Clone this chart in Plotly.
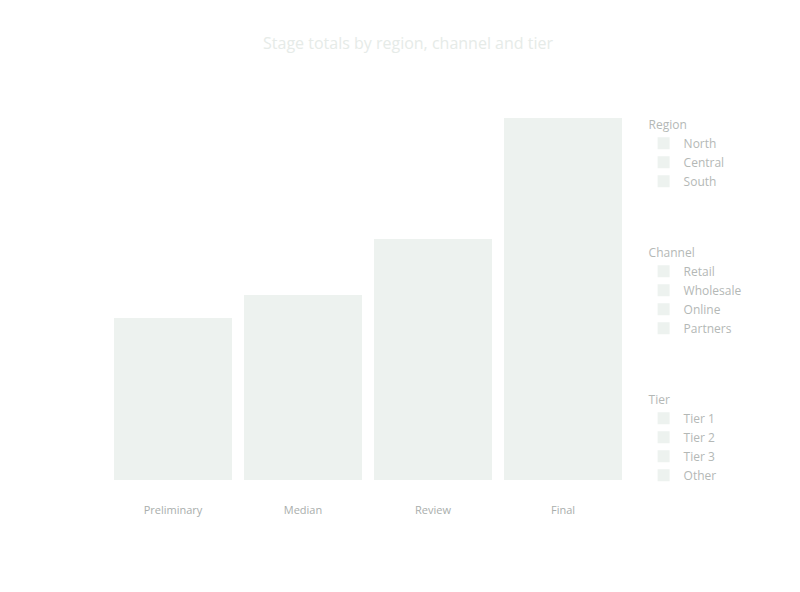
import plotly.graph_objects as go

# categories along the x axis
stages = ["Preliminary", "Median", "Review", "Final"]

# series, in legend order, grouped three ways
group_a = ["North", "Central", "South"]
group_b = ["Retail", "Wholesale", "Online", "Partners"]
group_c = ["Tier 1", "Tier 2", "Tier 3", "Other"]

north = [18, 20, 26, 39]
central = [15, 17, 22, 33]
south = [12, 14, 18, 27]
retail = [20, 23, 30, 45]
wholesale = [16, 18, 24, 36]
online = [14, 16, 21, 31]
partners = [10, 12, 15, 23]
tier1 = [22, 25, 33, 49]
tier2 = [17, 19, 25, 38]
tier3 = [14, 16, 21, 32]
other = [12, 14, 18, 26]

series = [
    ("Region", group_a, [north, central, south]),
    ("Channel", group_b, [retail, wholesale, online, partners]),
    ("Tier", group_c, [tier1, tier2, tier3, other]),
]

bar_color = "#edf2ef"
text_color = "#b4b8b6"

fig = go.Figure()
for group_name, names, values in series:
    for name, vals in zip(names, values):
        fig.add_trace(go.Bar(
            x=stages, y=vals, name=name,
            legendgroup=group_name,
            legendgrouptitle=dict(text=group_name, font=dict(color=text_color, size=12)),
            marker=dict(color=bar_color, line=dict(width=0)),
        ))

fig.update_layout(
    width=800, height=592,
    barmode="stack", bargap=0.09,
    title=dict(text="Stage totals by region, channel and tier", x=0.5, y=0.95,
               font=dict(family="Open Sans", size=16, color="#e6ebe8")),
    font=dict(family="Open Sans", size=12, color=text_color),
    paper_bgcolor="white", plot_bgcolor="white",
    margin=dict(l=100, r=180, t=100, b=120),
    showlegend=True,
    legend=dict(x=1.03, y=0.995, yanchor="top", traceorder="grouped", tracegroupgap=52,
                maxheight=560, bgcolor="rgba(0,0,0,0)", font=dict(color=text_color, size=12)),
)
fig.update_xaxes(showline=False, ticks="", ticklabelstandoff=22,
                 tickfont=dict(color="#a9aeac", size=11))
fig.update_yaxes(range=[0, 390], showgrid=False, showticklabels=False, zeroline=False)

fig.write_html("out.html")
